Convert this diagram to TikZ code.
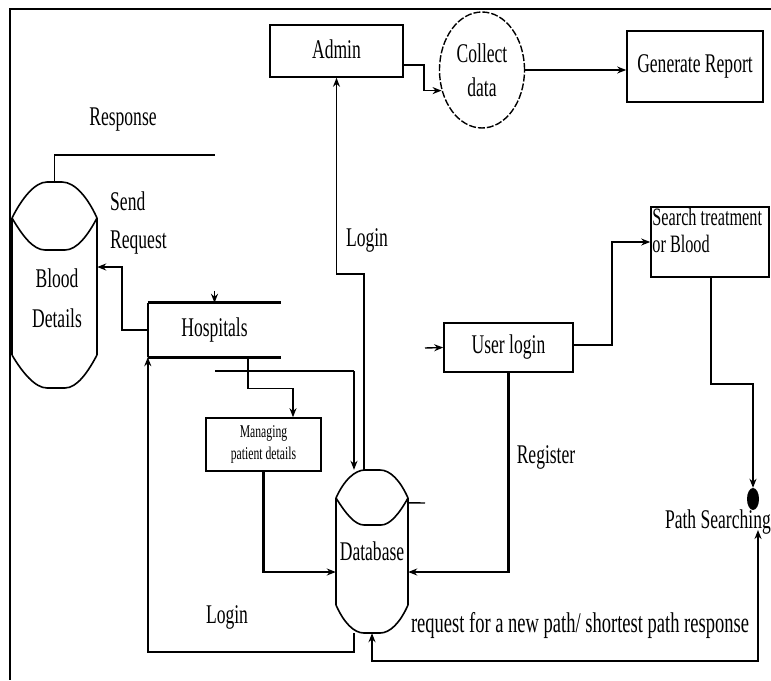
\documentclass[tikz,border=0pt]{standalone}
\usepackage{fontspec}
\setmainfont{Liberation Serif}[FakeStretch=0.65]
\usetikzlibrary{arrows.meta,shapes.geometric,calc}
\begin{document}
\begin{tikzpicture}[x=1pt,y=-1pt,
  conn/.style={line width=1.4pt},
  mid/.style={line width=2.2pt},
  heavy/.style={line width=2.8pt},
  arr/.style={-{Stealth[length=9pt,width=7pt]}},
  darr/.style={{Stealth[length=9pt,width=7pt]}-{Stealth[length=9pt,width=7pt]}},
  box/.style={draw,line width=1.6pt,rectangle,inner sep=0pt,font=\fontsize{27}{30}\selectfont},
  lbl/.style={font=\fontsize{27}{30}\selectfont,inner sep=0pt},
  ghost/.style={rectangle,inner sep=0pt,font=\fontsize{27}{30}\selectfont},
  shapeline/.style={line width=1.6pt}
]
\useasboundingbox (0,0) rectangle (771,680);

% frame
\draw[line width=2pt] (771,9) -- (10,9) -- (10,680);

% nodes
\node[box,minimum width=133pt,minimum height=52pt] (admin) at (336.5,51) {\raisebox{3pt}{Admin}};
\node[draw,ellipse,minimum width=85pt,minimum height=116pt,inner sep=0pt,
      line width=1.4pt,dash pattern=on 7pt off 2pt,align=center,
      font=\fontsize{27}{34}\selectfont] (collect) at (482,70) {Collect\\data};
\node[box,minimum width=136pt,minimum height=71pt] (report) at (695,66.5) {\raisebox{6pt}{Generate Report}};
\node[box,minimum width=118pt,minimum height=70pt,
      label={[inner sep=0pt,anchor=north west,align=left,xshift=2pt,yshift=-2pt,
              font=\fontsize{25}{27}\selectfont]north west:Search treatment\\or Blood}] (search) at (710,242) {};
\node[box,minimum width=129pt,minimum height=49pt] (userlogin) at (508.5,347.5) {User login};
\node[box,minimum width=115pt,minimum height=53pt,align=center,
      font=\fontsize{18}{22}\selectfont] (managing) at (263.5,444.5) {Managing\\patient details};
\node[fill,ellipse,minimum width=12pt,minimum height=22pt,inner sep=0pt] (dot) at (753,499) {};
\node[lbl,anchor=base east] (ps) at (771,528) {Path Searching};

% Hospitals data store
\node[ghost,minimum width=133pt,minimum height=54pt] (hosp) at (214.5,330) {\raisebox{3pt}{Hospitals}};
\draw[heavy] (hosp.north west) -- (hosp.north east);
\draw[heavy] (hosp.south west) -- (hosp.south east);
\draw[conn] (hosp.north west) -- (hosp.south west);

% Blood details drum
\node[ghost,minimum width=85pt,minimum height=206pt] (blood) at (54.5,285) {};
\draw[shapeline] (12,218) .. controls (22,198) and (35,182) .. (47,182) -- (62,182)
  .. controls (75,182) and (88,198) .. (97,218);
\draw[shapeline] (12,218) .. controls (22,235) and (33,250) .. (45,250) -- (65,250)
  .. controls (77,250) and (88,235) .. (97,218);
\draw[line width=2.4pt] (12,218) -- (12,355);
\draw[shapeline] (97,218) -- (97,355);
\draw[shapeline] (12,355) .. controls (22,372) and (35,388) .. (47,388) -- (65,388)
  .. controls (77,388) and (88,372) .. (97,355);
\node[lbl,align=center,font=\fontsize{27}{40}\selectfont] (bloodtxt) at (57,298) {Blood\\Details};

% Database drum
\node[ghost,minimum width=72pt,minimum height=163pt] (db) at (372,551.5) {Database};
\draw[shapeline] (336,498) .. controls (344,480) and (355,470) .. (365,470) -- (380,470)
  .. controls (390,470) and (400,480) .. (408,498);
\draw[shapeline] (336,498) .. controls (346,514) and (355,525) .. (364,525) -- (381,525)
  .. controls (390,525) and (399,514) .. (408,498);
\draw[shapeline] (336,498) -- (336,605);
\draw[shapeline] (408,498) -- (408,605);
\draw[shapeline] (336,605) .. controls (344,623) and (354,633) .. (364,633) -- (380,633)
  .. controls (390,633) and (400,623) .. (408,605);

% coordinates for free ends
\coordinate (rsp) at (215,155);
\coordinate (h2a) at (215,371);
\coordinate (h2b) at (354,371);
\coordinate (ulin) at (425,348);
\coordinate (psb) at (758,530);
\coordinate (dbstub) at (425,503);

% connectors
\draw[conn,arr] ([yshift=-14pt]admin.east) -- ++(20,0) |- (collect.207);
\draw[conn,arr] (collect.east) -- (collect.east -| report.west);
\draw[conn,arr] ([xshift=-8pt]db.north) -- ++(0,-196) -| (admin.south);
\draw[conn] (blood.north) |- (rsp);
\draw[conn,arr] ([yshift=12pt]hosp.north) -- (hosp.north);
\draw[conn,arr] (hosp.west) -- ++(-26,0) |- ([yshift=18pt]blood.east);
\draw[mid,arr] ([xshift=-18pt]db.south) -- ++(0,19) -| (hosp.south west);
\draw[conn,arr] ([xshift=33.5pt]hosp.south) -- ++(0,31) -| ([xshift=29.5pt]managing.north);
\draw[heavy] (h2a) -- (h2b);
\draw[conn,arr] (h2b) -- (h2b |- db.north);
\draw[heavy,arr] (managing.south) |- ([yshift=-20.5pt]db.west);
\draw[heavy,arr] (userlogin.south) |- ([yshift=-20.5pt]db.east);
\draw[conn,arr] (ulin) -- (userlogin.west);
\draw[conn,arr] ([yshift=2.5pt]userlogin.east) -- ++(38,0) |- (search.west);
\draw[conn,arr] ([xshift=1pt]search.south) -- ++(0,106) -| (dot.north);
\draw[mid,darr] (db.south) -- ++(0,28) -| (psb);
\draw[conn] ([yshift=-33pt]db.north east) -- (dbstub);

% labels
\node[lbl] (lresp) at (123,120) {Response};
\node[lbl,align=left,anchor=west,font=\fontsize{27}{38}\selectfont] (lsend) at (110,223) {Send\\Request};
\node[lbl] (llogin1) at (367,240) {Login};
\node[lbl] (llogin2) at (227,617) {Login};
\node[lbl] (lreg) at (546,457) {Register};
\node[lbl,font=\fontsize{28.5}{30}\selectfont] (lreq) at (580,625) {request for a new path/ shortest path response};
\end{tikzpicture}
\end{document}
